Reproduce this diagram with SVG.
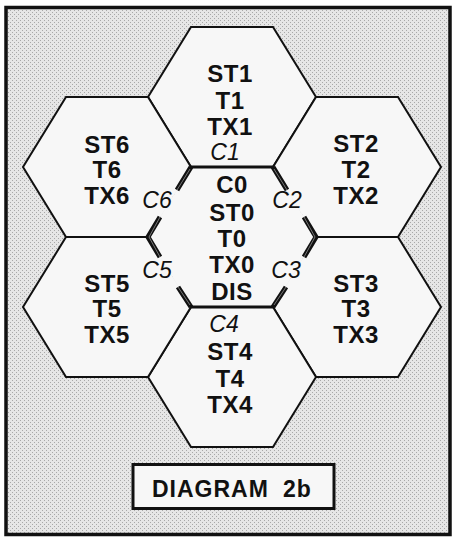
<svg xmlns="http://www.w3.org/2000/svg" width="454" height="539" viewBox="0 0 454 539">
<defs>
<pattern id="stip" width="4" height="4" patternUnits="userSpaceOnUse">
<rect width="4" height="4" fill="#e6e6e6"/>
<rect x="0" y="0" width="1" height="1" fill="#a8a8a8"/>
<rect x="2" y="2" width="1" height="1" fill="#a8a8a8"/>
</pattern>
<style>
.hf{fill:#f7f7f7;stroke:none}
.he{fill:none;stroke:#111;stroke-width:2;stroke-linejoin:miter}
.thk{fill:none;stroke:#111;stroke-width:3.2;stroke-linecap:butt}
.bar{fill:none;stroke:#111;stroke-width:5;stroke-linecap:butt}
.core{fill:none;stroke:#777;stroke-width:1;stroke-linecap:butt}
.t{font-family:"Liberation Sans",Arial,sans-serif;font-weight:bold;font-size:24px;letter-spacing:0.5px;fill:#111;text-anchor:middle}
.c{font-family:"Liberation Sans",Arial,sans-serif;font-style:italic;font-size:23px;fill:#111;text-anchor:middle}
</style>
</defs>
<rect x="6" y="7.5" width="444" height="527" fill="url(#stip)" stroke="#111" stroke-width="3.5"/>

<g id="hex1">
<polygon class="hf" points="148,97 191,27 273,27 316,97 273,167 191,167"/>
<path class="he" d="M191,167 L148,97 L191,27 L273,27 L316,97 L273,167"/>
<text class="t" x="230" y="82">ST1</text>
<text class="t" x="230" y="109">T1</text>
<text class="t" x="230" y="135">TX1</text>
<text class="c" x="225" y="160">C1</text>
</g>
<g id="hex2">
<polygon class="hf" points="273,167 316,97 398,97 441,167 398,237 316,237"/>
<path class="he" d="M273,167 L316,97 L398,97 L441,167 L398,237 L316,237"/>
<text class="t" x="356" y="152">ST2</text>
<text class="t" x="356" y="178">T2</text>
<text class="t" x="356" y="204">TX2</text>
</g>
<g id="hex3">
<polygon class="hf" points="273,307 316,237 398,237 441,307 398,377 316,377"/>
<path class="he" d="M316,237 L398,237 L441,307 L398,377 L316,377 L273,307"/>
<text class="t" x="356" y="292">ST3</text>
<text class="t" x="356" y="317">T3</text>
<text class="t" x="356" y="343">TX3</text>
</g>
<g id="hex4">
<polygon class="hf" points="148,377 191,307 273,307 316,377 273,447 191,447"/>
<path class="he" d="M191,307 L148,377 L191,447 L273,447 L316,377 L273,307"/>
<text class="c" x="224" y="332">C4</text>
<text class="t" x="230" y="360">ST4</text>
<text class="t" x="230" y="387">T4</text>
<text class="t" x="230" y="413">TX4</text>
</g>
<g id="hex5">
<polygon class="hf" points="23,307 66,237 148,237 191,307 148,377 66,377"/>
<path class="he" d="M191,307 L148,377 L66,377 L23,307 L66,237 L148,237"/>
<text class="t" x="107" y="292">ST5</text>
<text class="t" x="107" y="317">T5</text>
<text class="t" x="107" y="343">TX5</text>
</g>
<g id="hex6">
<polygon class="hf" points="23,167 66,97 148,97 191,167 148,237 66,237"/>
<path class="he" d="M148,237 L66,237 L23,167 L66,97 L148,97 L191,167"/>
<text class="t" x="107" y="153">ST6</text>
<text class="t" x="107" y="178">T6</text>
<text class="t" x="107" y="204">TX6</text>
</g>
<g id="hex0">
<polygon class="hf" points="148,237 191,167 273,167 316,237 273,307 191,307"/>
<text class="t" x="232" y="193">C0</text>
<text class="t" x="232" y="221">ST0</text>
<text class="t" x="232" y="247">T0</text>
<text class="t" x="232" y="273">TX0</text>
<text class="t" x="232" y="300">DIS</text>
</g>

<g id="connectors">
<path class="thk" d="M191,167 L273,167 M191,307 L273,307"/>
<path class="bar" d="M191,167 L177,190 M160,217 L148,237 L160,257 M178,287 L191,307 M273,167 L287,190 M304,217 L316,237 L304,257 M286,287 L273,307"/>
<path class="core" d="M190,169 L177,190 M160,217 L149,237 L160,257 M178,287 L190,305 M274,169 L287,190 M304,217 L315,237 L304,257 M286,287 L274,305"/>
<text class="c" x="157" y="208">C6</text>
<text class="c" x="287" y="208">C2</text>
<text class="c" x="157" y="278">C5</text>
<text class="c" x="286" y="278">C3</text>
</g>

<g id="label">
<rect x="133" y="464.5" width="201" height="44" fill="#f7f7f7" stroke="#111" stroke-width="3"/>
<text font-family="Liberation Sans, Arial, sans-serif" font-weight="bold" font-size="23" letter-spacing="1" fill="#111" x="152" y="497">DIAGRAM<tspan x="283">2b</tspan></text>
</g>
</svg>
